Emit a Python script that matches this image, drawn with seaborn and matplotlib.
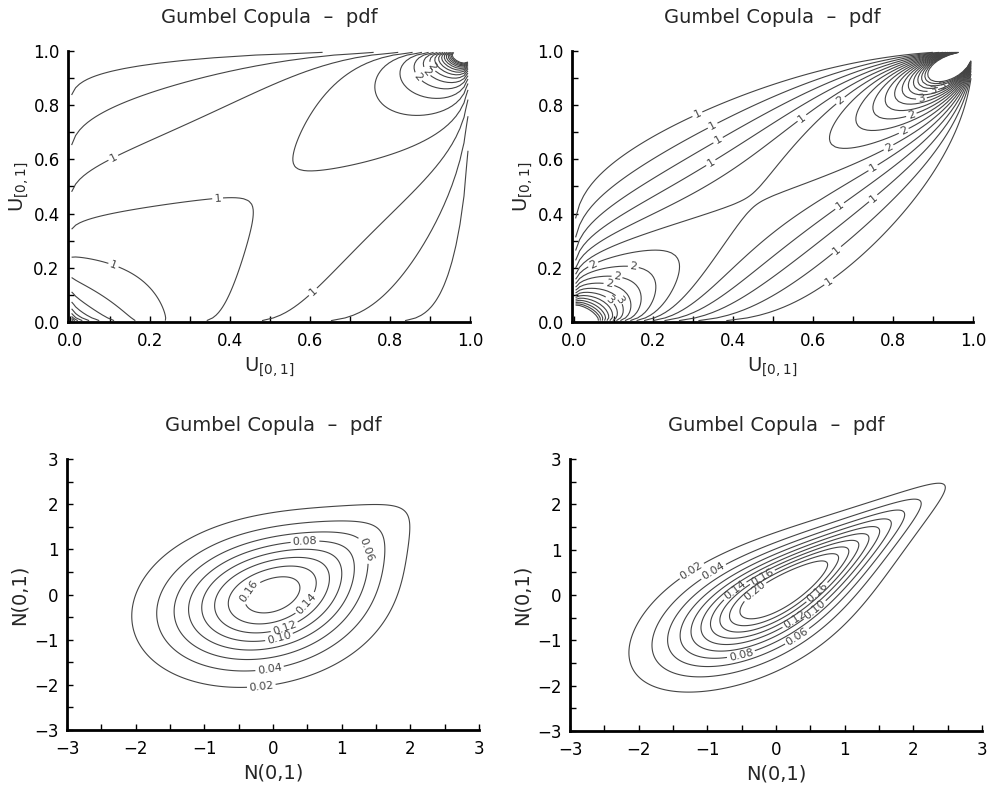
import numpy as np
import matplotlib
matplotlib.use("Agg")
import matplotlib.pyplot as plt
import seaborn as sns
from math import erf

sns.set_theme(style="ticks")
plt.rcParams["font.family"] = ["DejaVu Sans"]

# Gumbel copula parameters for the two columns
theta_values = [1.25, 2.0]

# contour levels
copula_levels = [0.5, 0.7, 0.9, 1.1, 1.3, 1.5, 1.7, 1.9, 2.1, 2.3, 2.5,
                 2.7, 2.9, 3.1, 3.3, 3.5, 3.7, 3.9]
normal_levels = [0.02, 0.04, 0.06, 0.08, 0.10, 0.12, 0.14, 0.16, 0.18, 0.20]

unit_ticks = [0.0, 0.2, 0.4, 0.6, 0.8, 1.0]
normal_ticks = [-3, -2, -1, 0, 1, 2, 3]

title = "Gumbel Copula  \u2013  pdf"
line_color = "#444444"

# where the contour labels sit, per panel
label_spots = [
    [(0.108, 0.609), (0.37, 0.45), (0.108, 0.203), (0.608, 0.111),
     (0.87, 0.904), (0.888, 0.919), (0.90, 0.937)],
    [(0.311, 0.763), (0.349, 0.722), (0.361, 0.673), (0.344, 0.587),
     (0.573, 0.75), (0.751, 0.566), (0.668, 0.424), (0.751, 0.455),
     (0.66, 0.264), (0.639, 0.148),
     (0.668, 0.818), (0.788, 0.646), (0.826, 0.707), (0.846, 0.763),
     (0.871, 0.824), (0.90, 0.85), (0.925, 0.87),
     (0.05, 0.209), (0.149, 0.197), (0.108, 0.160), (0.087, 0.129),
     (0.091, 0.08), (0.112, 0.08)],
    [(0.466, 1.157), (1.29, 0.96), (-0.21, -0.1), (0.466, -0.18), (0.15, -0.66),
     (0.08, -0.9), (-0.05, -1.64), (-0.17, -2.03)],
    [(-1.21, 0.49), (-0.9, 0.49), (-0.61, 0.12), (-0.19, 0.37), (-0.29, 0.04),
     (0.61, 0.04), (0.56, -0.32), (0.27, -0.54), (0.29, -0.87), (-0.51, -1.31)],
]


def gumbel_density(u, v, theta):
    x = -np.log(u)
    y = -np.log(v)
    a = (x ** theta + y ** theta) ** (1.0 / theta)
    c = np.exp(-a)
    return c * (x * y) ** (theta - 1) / (u * v) * a ** (1 - 2 * theta) * (a + theta - 1)


def norm_cdf(z):
    return 0.5 * (1 + np.vectorize(erf)(z / np.sqrt(2)))


def norm_pdf(z):
    return np.exp(-0.5 * z ** 2) / np.sqrt(2 * np.pi)


def whole(v):
    return str(int(np.floor(v + 0.5 + 1e-9)))


fig = plt.figure(figsize=(9.89, 7.87), dpi=100)
W, H = 989, 787


def add_axes(l, r, t, b):
    return fig.add_axes([l / W, 1 - b / H, (r - l) / W, (b - t) / H])


boxes = [(68, 470, 51, 322), (572, 973, 51, 322),
         (67, 479, 459, 730), (570, 982, 459, 731)]

g = np.linspace(0.005, 0.995, 100)
U, V = np.meshgrid(g, g)
z = np.linspace(-3, 3, 301)
Z1, Z2 = np.meshgrid(z, z)

for col, theta in enumerate(theta_values):
    # copula density on the unit square
    ax = add_axes(*boxes[col])
    C = gumbel_density(U, V, theta)
    cs = ax.contour(U, V, C, levels=copula_levels, colors=line_color, linewidths=0.8)
    ax.clabel(cs, fmt=whole, fontsize=8, inline=True, inline_spacing=2,
              manual=label_spots[col])
    ax.set_xlim(-0.004, 1.0)
    ax.set_ylim(0.0, 1.0)
    ax.set_xticks(unit_ticks)
    ax.set_yticks(unit_ticks)
    ax.set_xticks(np.arange(0.1, 1.0, 0.2), minor=True)
    ax.set_yticks(np.arange(0.1, 1.0, 0.2), minor=True)
    ax.set_xlabel("U$_{[0,1]}$", fontsize=14, labelpad=4)
    ax.set_ylabel("U$_{[0,1]}$", fontsize=14, labelpad=2)
    ax.set_title(title, fontsize=14, pad=20)

    # density with standard normal margins
    ax2 = add_axes(*boxes[col + 2])
    F = gumbel_density(norm_cdf(Z1), norm_cdf(Z2), theta) * norm_pdf(Z1) * norm_pdf(Z2)
    cs2 = ax2.contour(Z1, Z2, F, levels=normal_levels, colors=line_color, linewidths=0.8)
    ax2.clabel(cs2, fmt=lambda v: f"{v:.2f}", fontsize=8, inline=True, inline_spacing=2,
               manual=label_spots[col + 2])
    ax2.set_xlim(-3, 3)
    ax2.set_ylim(-3, 3)
    ax2.set_xticks(normal_ticks)
    ax2.set_yticks(normal_ticks)
    ax2.set_xticks(np.arange(-2.5, 3, 1.0), minor=True)
    ax2.set_yticks(np.arange(-2.5, 3, 1.0), minor=True)
    ax2.set_xlabel("N(0,1)", fontsize=14, labelpad=4)
    ax2.set_ylabel("N(0,1)", fontsize=14, labelpad=4)
    ax2.set_title(title, fontsize=14, pad=20)

for ax in fig.axes:
    sns.despine(ax=ax)
    ax.spines["left"].set_linewidth(2)
    ax.spines["bottom"].set_linewidth(2)
    ax.spines["left"].set_color("black")
    ax.spines["bottom"].set_color("black")
    ax.tick_params(which="both", direction="in", length=4, width=1, labelsize=12,
                   colors="black")
    ax.tick_params(axis="x", pad=7)
    ax.tick_params(axis="y", pad=6)

fig.savefig("out.png", dpi=100)
